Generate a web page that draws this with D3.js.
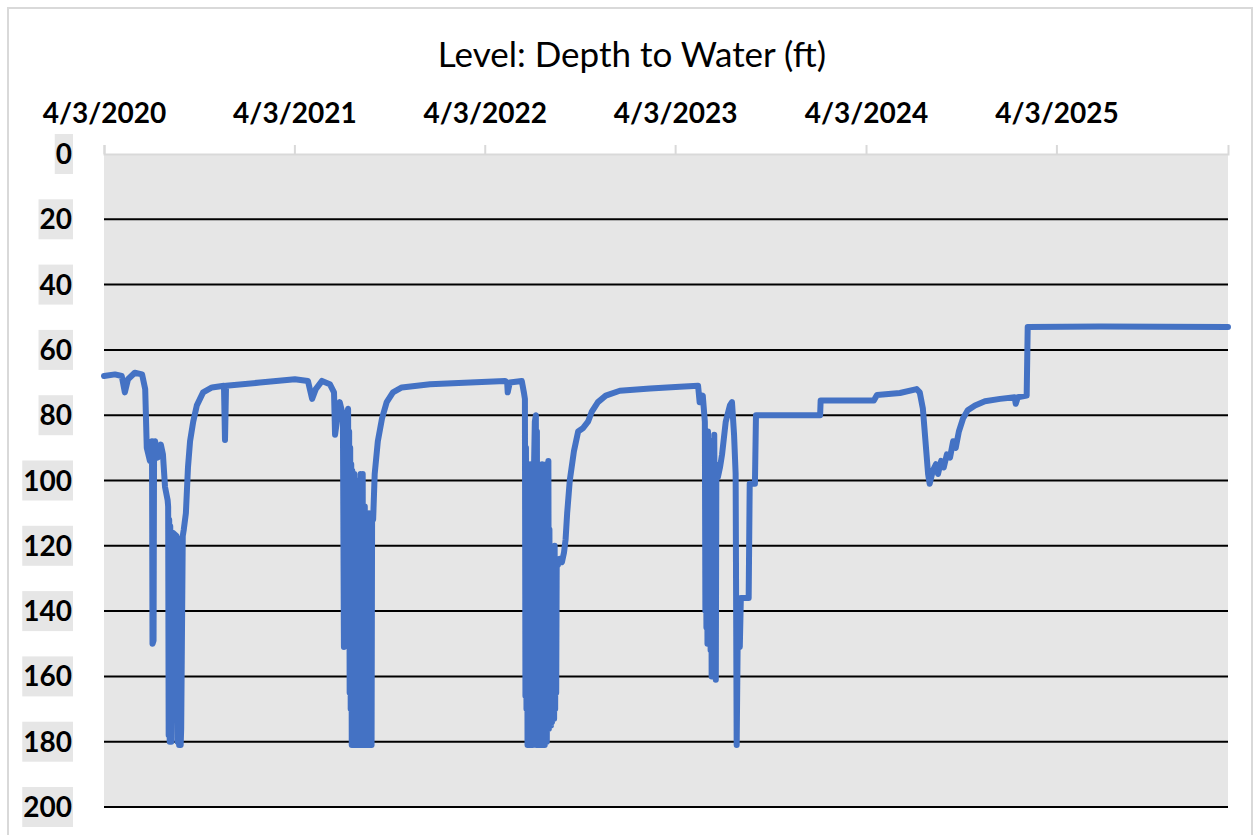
<!DOCTYPE html>
<html>
<head>
<meta charset="utf-8">
<script src="https://cdn.jsdelivr.net/npm/d3@7"></script>
<style>
  body { margin: 0; background: #fff; }
  text { font-family: Lato, "Open Sans", sans-serif; }
</style>
</head>
<body>
<div id="chart"></div>
<script>
// water level readings: date, depth to water (ft)
let dates2020 = ["2020-04-03","2020-04-24","2020-05-07","2020-05-13","2020-05-19","2020-06-01","2020-06-15","2020-06-21","2020-06-24","2020-06-30","2020-07-04","2020-07-05","2020-07-07","2020-07-08","2020-07-10","2020-07-15","2020-07-21","2020-07-25","2020-07-29","2020-08-03","2020-08-04","2020-08-05","2020-08-06","2020-08-07","2020-08-08","2020-08-10","2020-08-13","2020-08-20","2020-08-22","2020-08-23","2020-08-25","2020-08-26","2020-08-28","2020-08-29","2020-09-01","2020-09-03","2020-09-07","2020-09-11","2020-09-15","2020-09-21","2020-09-28","2020-10-10","2020-10-27","2020-11-19","2020-11-21","2020-11-23","2021-01-27"];
let depth2020 = [68,67.5,68,73,69,67,67.5,72,90,94,88,150,149,90,88,93,89,92,102,106,108,178,112,180,114,180,116,117,180,120,181,118,181,176,117,115,110,96,88,82,77,73,71.5,71,87.6,71,70];

let dates2021 = ["2021-04-04","2021-04-29","2021-05-07","2021-05-14","2021-05-26","2021-06-10","2021-06-18","2021-06-20","2021-06-26","2021-06-29","2021-07-05","2021-07-07","2021-07-11","2021-07-15","2021-07-16","2021-07-17","2021-07-18","2021-07-19","2021-07-20","2021-07-21","2021-07-22","2021-07-23","2021-07-24","2021-07-25","2021-07-26","2021-07-27","2021-07-28","2021-07-29","2021-07-30","2021-07-31","2021-08-01","2021-08-02","2021-08-03","2021-08-04","2021-08-05","2021-08-06","2021-08-07","2021-08-08","2021-08-09","2021-08-10","2021-08-11","2021-08-12","2021-08-13","2021-08-14","2021-08-15","2021-08-16","2021-08-17","2021-08-18","2021-08-19","2021-08-20","2021-08-21","2021-08-22","2021-08-23","2021-08-24","2021-08-25","2021-08-26","2021-08-27","2021-08-28","2021-08-29","2021-08-30","2021-09-01","2021-09-04","2021-09-10","2021-09-18","2021-09-27","2021-10-09","2021-10-26","2021-12-19","2022-03-06"];
let depth2021 = [69,69.5,75,72,69.5,70.5,73,86,79,76,80,151,82,78,140,85,165,90,170,95,181,97,181,100,181,98,181,105,181,100,181,108,181,105,181,110,181,98,181,110,181,98,181,112,181,108,181,112,181,110,181,112,181,110,181,112,181,110,181,111,112,98,88,81,76,73,71.5,70.5,70];

let dates2022 = ["2022-05-12","2022-05-16","2022-05-17","2022-05-21","2022-06-13","2022-06-17","2022-06-19","2022-06-20","2022-06-21","2022-06-22","2022-06-23","2022-06-24","2022-06-25","2022-06-26","2022-06-27","2022-06-28","2022-06-29","2022-06-30","2022-07-01","2022-07-02","2022-07-03","2022-07-04","2022-07-06","2022-07-08","2022-07-10","2022-07-11","2022-07-12","2022-07-13","2022-07-14","2022-07-15","2022-07-16","2022-07-17","2022-07-18","2022-07-19","2022-07-20","2022-07-21","2022-07-22","2022-07-23","2022-07-24","2022-07-25","2022-07-26","2022-07-27","2022-07-28","2022-07-30","2022-07-31","2022-08-01","2022-08-02","2022-08-03","2022-08-04","2022-08-05","2022-08-06","2022-08-07","2022-08-08","2022-08-09","2022-08-10","2022-08-11","2022-08-12","2022-08-13","2022-08-14","2022-08-15","2022-08-16","2022-08-17","2022-08-18","2022-08-19","2022-08-21","2022-08-25","2022-08-29","2022-09-02","2022-09-05","2022-09-08","2022-09-13","2022-09-21","2022-09-29","2022-10-08","2022-10-18","2022-10-25","2022-11-06","2022-11-21","2022-12-18","2023-02-14","2023-04-12"];
let depth2022 = [69.5,70,73,70,69.5,73,75,166,90,170,100,181,95,181,110,181,95,175,120,181,130,181,100,82,80,181,85,181,100,181,110,181,115,181,97,181,95,181,110,181,115,181,110,95,180,130,175,94,176,115,174,120,175,125,174,122,172,125,173,120,170,125,165,124,126,124,125,122,118,110,100,91,85,84,82,79,76,74,72.5,71.8,71.3];

let dates2023 = ["2023-05-17","2023-05-20","2023-05-26","2023-05-30","2023-05-31","2023-06-01","2023-06-02","2023-06-03","2023-06-04","2023-06-05","2023-06-06","2023-06-07","2023-06-08","2023-06-09","2023-06-10","2023-06-11","2023-06-12","2023-06-13","2023-06-14","2023-06-15","2023-06-16","2023-06-17","2023-06-18","2023-06-19","2023-06-20","2023-06-21","2023-06-24","2023-06-28","2023-07-02","2023-07-09","2023-07-17","2023-07-21","2023-07-25","2023-07-28","2023-07-30","2023-08-01","2023-08-05","2023-08-07","2023-08-22","2023-08-24","2023-09-03","2023-09-05","2024-01-06","2024-01-07","2024-04-18","2024-04-24","2024-06-07"];
let depth2023 = [71,76,74,82,140,88,145,90,150,85,148,90,150,92,152,88,160,95,140,90,130,86,120,95,161,98,99,96,92,82,77,76,86,98,181,148,151,136,136,101,101,80,80,75.5,75.5,73.8,73.2];

let dates2024 = ["2024-07-09","2024-07-15","2024-07-21","2024-07-31","2024-08-03","2024-08-09","2024-08-15","2024-08-19","2024-08-25","2024-08-30","2024-09-05","2024-09-11","2024-09-17","2024-09-22","2024-09-28","2024-10-06","2024-10-15","2024-10-29","2024-11-17","2024-12-16","2025-01-13","2025-01-15","2025-01-19","2025-02-05","2025-02-07","2025-06-25","2026-02-26"];
let depth2024 = [72,73,78,98,101,97,95,98,94,96,92,93,88,90,85,81,78.5,77,75.7,75,74.5,76.5,74.5,74,53,52.8,53];

let xTickDates = ["2020-04-03","2021-04-03","2022-04-03","2023-04-03","2024-04-03","2025-04-03"];
let yTicks = [0,20,40,60,80,100,120,140,160,180,200];
let xDomain = ["2020-04-03","2026-02-26"];
let titleText = "Level: Depth to Water (ft)";

let width = 1257, height = 835;
let margins = {left: 104, right: 29, top: 154, bottom: 28};

let parse = d3.timeParse("%Y-%m-%d");
let fmt = d3.timeFormat("%-m/%-d/%Y");

let data = [];
[[dates2020, depth2020], [dates2021, depth2021], [dates2022, depth2022],
 [dates2023, depth2023], [dates2024, depth2024]].forEach(function(pair) {
  pair[0].forEach(function(d, i) {
    data.push({date: parse(d), depth: pair[1][i]});
  });
});

let svg = d3.select("#chart").append("svg").attr("width", width).attr("height", height);

// chart border
svg.append("rect")
  .attr("x", 8).attr("y", 8)
  .attr("width", 1244).attr("height", 840)
  .attr("fill", "#fff")
  .attr("stroke", "#d9d9d9")
  .attr("stroke-width", 2);

let x = d3.scaleTime()
  .domain(xDomain.map(parse))
  .range([margins.left, width - margins.right]);

let y = d3.scaleLinear()
  .domain([0, 200])
  .range([margins.top, height - margins.bottom]);

// plot background
svg.append("rect")
  .attr("x", x.range()[0]).attr("y", y(0))
  .attr("width", x.range()[1] - x.range()[0])
  .attr("height", y(200) - y(0))
  .attr("fill", "#e6e6e6");

// gridlines
svg.append("g")
  .selectAll("line")
  .data(yTicks.filter(function(d) { return d > 0; }))
  .enter().append("line")
  .attr("x1", x.range()[0]).attr("x2", x.range()[1])
  .attr("y1", function(d) { return y(d); })
  .attr("y2", function(d) { return y(d); })
  .attr("stroke", "#000")
  .attr("stroke-width", 2);

// top date axis
let xAxis = d3.axisTop(x)
  .tickValues(xTickDates.map(parse))
  .tickFormat(fmt)
  .tickSize(9)
  .tickPadding(22);

let gx = svg.append("g")
  .attr("transform", "translate(0," + y(0) + ")")
  .call(xAxis);
gx.select(".domain").attr("stroke", "#d9d9d9").attr("stroke-width", 2);
gx.selectAll(".tick line").attr("stroke", "#d9d9d9").attr("stroke-width", 2);
gx.selectAll(".tick text")
  .attr("fill", "#000")
  .style("font-size", "28px")
  .style("font-weight", "bold");

// left depth labels with grey boxes
let gy = svg.append("g");
let labels = gy.selectAll("g")
  .data(yTicks)
  .enter().append("g")
  .attr("transform", function(d) { return "translate(73," + y(d) + ")"; });

labels.append("rect").attr("fill", "#e6e6e6");
labels.append("text")
  .attr("text-anchor", "end")
  .attr("dy", "0.36em")
  .attr("x", -1)
  .style("font-size", "28px")
  .style("font-weight", "bold")
  .text(function(d) { return d; });
labels.each(function() {
  let g = d3.select(this);
  let bb = g.select("text").node().getBBox();
  g.select("rect")
    .attr("x", bb.x - 1).attr("y", -20)
    .attr("width", bb.width + 2).attr("height", 40);
});

// series
let line = d3.line()
  .x(function(d) { return x(d.date); })
  .y(function(d) { return y(d.depth); });

svg.append("path")
  .datum(data)
  .attr("d", line)
  .attr("fill", "none")
  .attr("stroke", "#4472c4")
  .attr("stroke-width", 6)
  .attr("stroke-linejoin", "round")
  .attr("stroke-linecap", "round");

// title
svg.append("text")
  .attr("x", 632).attr("y", 67)
  .attr("text-anchor", "middle")
  .style("font-size", "35px")
  .attr("fill", "#000")
  .text(titleText);
</script>
</body>
</html>
